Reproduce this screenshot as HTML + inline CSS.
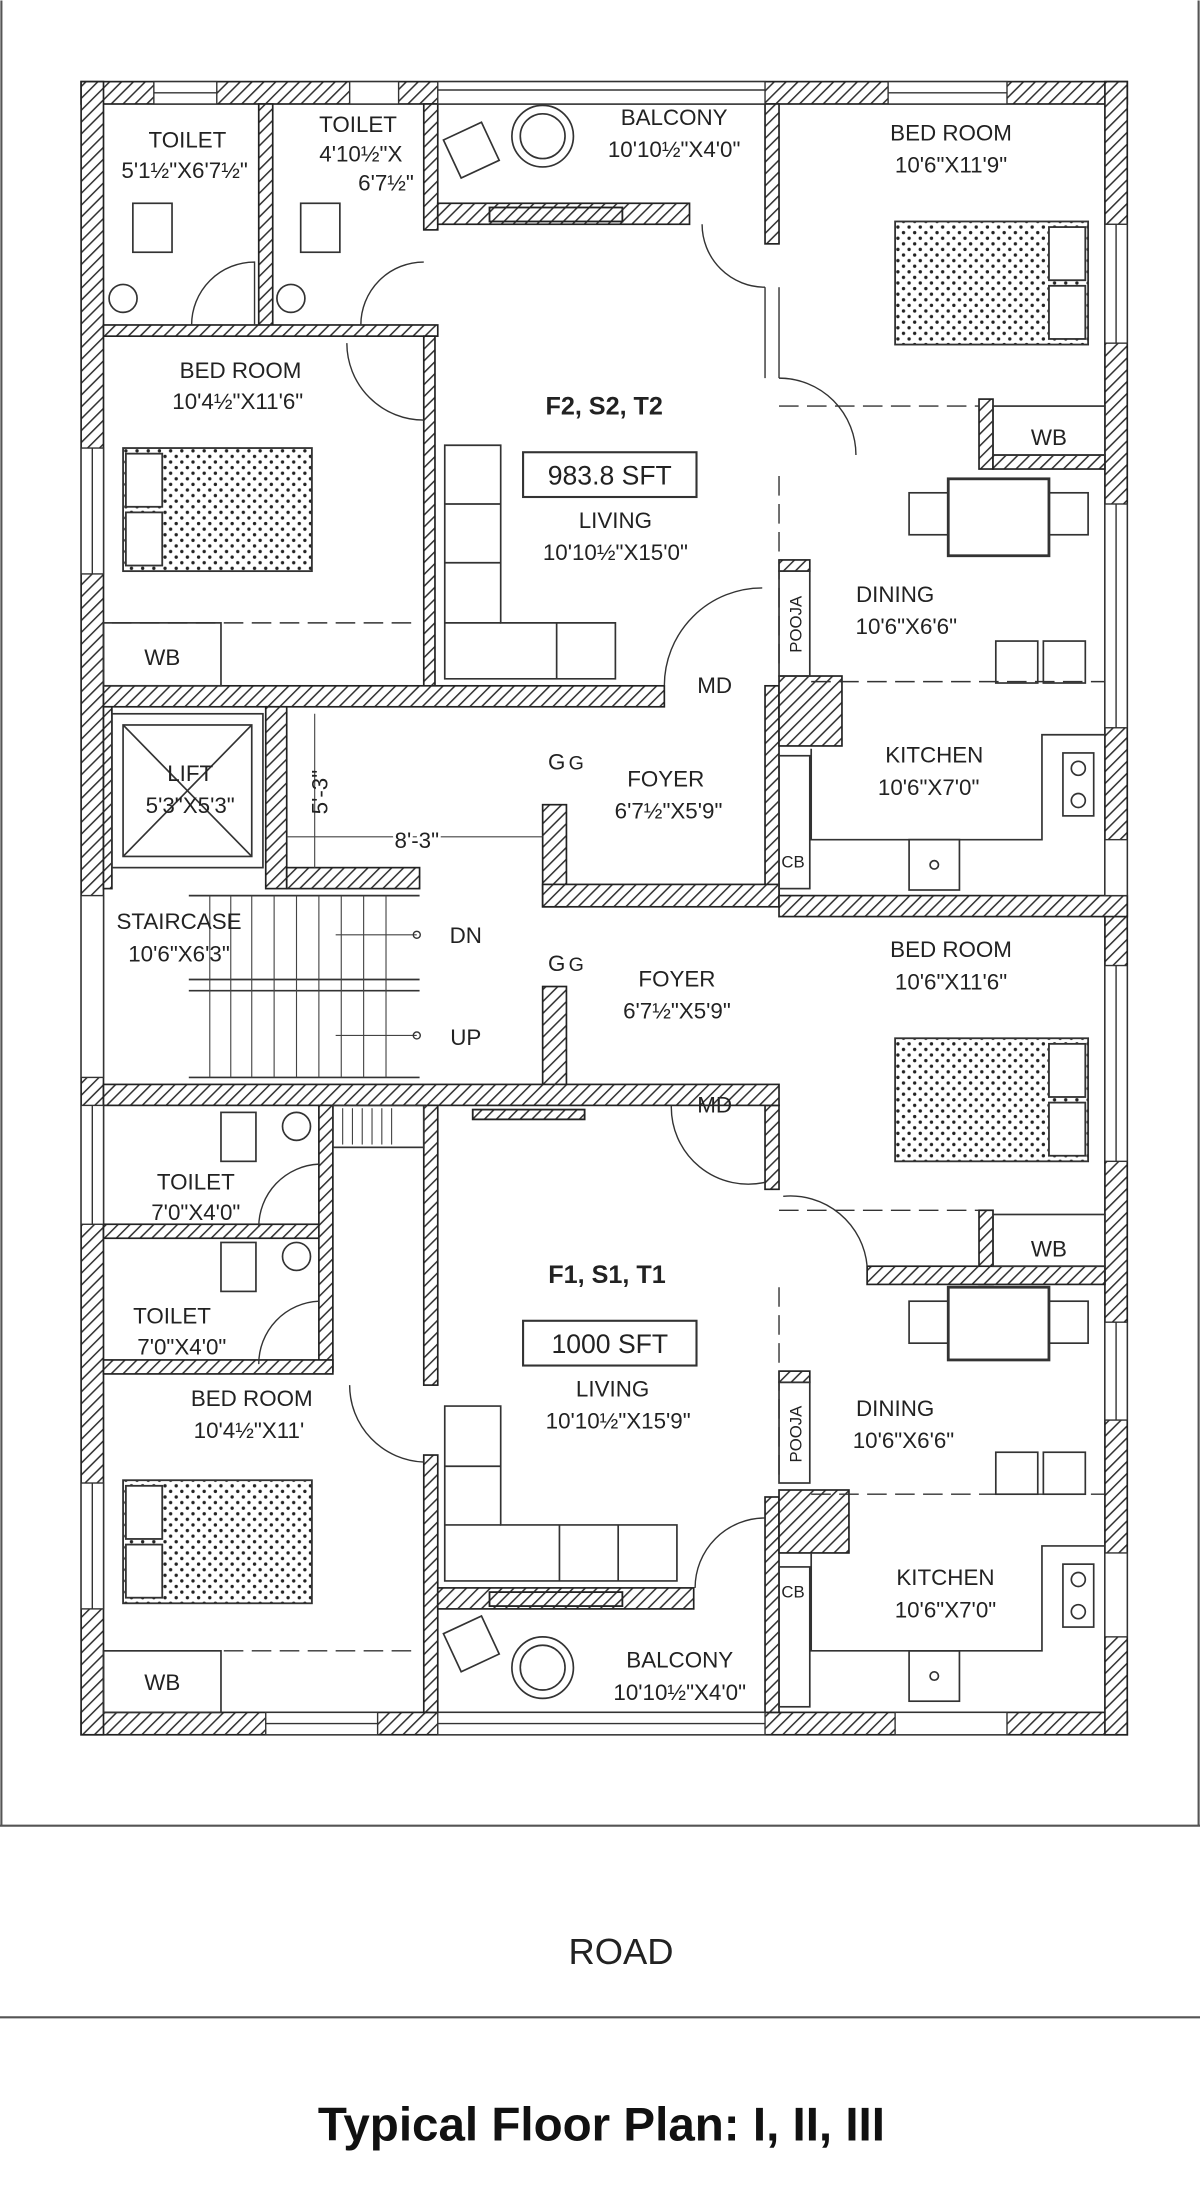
<!DOCTYPE html>
<html><head><meta charset="utf-8"><style>
html,body{margin:0;padding:0;background:#fff}
svg{display:block}
text{font-family:"Liberation Sans",sans-serif;fill:#222}
</style></head><body>
<svg width="1200" height="2194" viewBox="0 0 858 1568" xmlns="http://www.w3.org/2000/svg">
<defs>
<pattern id="h" width="6" height="6" patternUnits="userSpaceOnUse" patternTransform="rotate(45)">
<rect width="6" height="6" fill="#fff"/><line x1="0" y1="0" x2="0" y2="6" stroke="#333" stroke-width="2.2"/></pattern>
<pattern id="d" width="8" height="8" patternUnits="userSpaceOnUse">
<rect width="8" height="8" fill="#fff"/><circle cx="2" cy="2" r="1.2" fill="#222"/><circle cx="6" cy="6" r="1.2" fill="#222"/></pattern>
</defs>
<rect width="858" height="1568" fill="#fff"/>
<line x1="1" y1="0" x2="1" y2="1305" stroke="#555" stroke-width="1.5"/>
<line x1="857" y1="0" x2="857" y2="1305" stroke="#555" stroke-width="1.5"/>
<line x1="0" y1="1305" x2="858" y2="1305" stroke="#555" stroke-width="1.5"/>
<line x1="0" y1="1442" x2="858" y2="1442" stroke="#555" stroke-width="1.5"/>
<text x="444" y="1404" font-size="26" text-anchor="middle">ROAD</text>
<text x="430" y="1530" font-size="34" font-weight="bold" text-anchor="middle" style="fill:#111">Typical Floor Plan: I, II, III</text>

<g fill="url(#h)" stroke="#222" stroke-width="1.2">
<rect x="58" y="58" width="748" height="16"/>
<rect x="58" y="1224" width="748" height="16"/>
<rect x="58" y="58" width="16" height="1182"/>
<rect x="790" y="58" width="16" height="1182"/>
<rect x="185" y="74" width="10" height="166"/>
<rect x="74" y="232" width="239" height="8"/>
<rect x="303" y="74" width="10" height="90"/>
<rect x="303" y="240" width="8" height="252"/>
<rect x="313" y="145" width="180" height="15"/>
<rect x="547" y="74" width="10" height="100"/>
<rect x="547" y="490" width="10" height="155"/>
<rect x="547" y="790" width="10" height="60"/>
<rect x="547" y="1070" width="10" height="154"/>
<rect x="74" y="490" width="401" height="15"/>
<rect x="190" y="505" width="15" height="130"/>
<rect x="205" y="620" width="95" height="15"/>
<rect x="74" y="505" width="6" height="130"/>
<rect x="388" y="575" width="17" height="73"/>
<rect x="388" y="705" width="17" height="75"/>
<rect x="388" y="632" width="169" height="16"/>
<rect x="557" y="640" width="249" height="15"/>
<rect x="74" y="775" width="483" height="15"/>
<rect x="700" y="285" width="10" height="50"/>
<rect x="710" y="325" width="80" height="10"/>
<rect x="700" y="865" width="10" height="53"/>
<rect x="620" y="905" width="170" height="13"/>
<rect x="74" y="875" width="160" height="10"/>
<rect x="228" y="790" width="10" height="190"/>
<rect x="74" y="972" width="164" height="10"/>
<rect x="303" y="790" width="10" height="200"/>
<rect x="303" y="1040" width="10" height="184"/>
<rect x="313" y="1135" width="183" height="15"/>
<rect x="557" y="483" width="45" height="50"/>
<rect x="557" y="1065" width="50" height="45"/>
<rect x="557" y="400" width="22" height="8"/>
<rect x="557" y="980" width="22" height="8"/>
</g>
<g stroke="#333" stroke-width="1"><line x1="547" y1="205" x2="547" y2="270"/><line x1="557" y1="205" x2="557" y2="270"/></g>
<g fill="#fff" stroke="#333" stroke-width="1">
<rect x="110" y="58" width="45" height="16"/><line x1="110" y1="66" x2="155" y2="66"/>
<rect x="250" y="58" width="35" height="16"/>
<rect x="313" y="58" width="234" height="16"/><line x1="313" y1="64" x2="547" y2="64"/>
<rect x="635" y="58" width="85" height="16"/><line x1="635" y1="66" x2="720" y2="66"/>
<rect x="790" y="160" width="16" height="85"/><line x1="798" y1="160" x2="798" y2="245"/>
<rect x="790" y="360" width="16" height="160"/><line x1="798" y1="360" x2="798" y2="520"/>
<rect x="790" y="600" width="16" height="40"/>
<rect x="790" y="690" width="16" height="140"/><line x1="798" y1="690" x2="798" y2="830"/>
<rect x="790" y="945" width="16" height="70"/><line x1="798" y1="945" x2="798" y2="1015"/>
<rect x="790" y="1110" width="16" height="60"/>
<rect x="58" y="320" width="16" height="90"/><line x1="66" y1="320" x2="66" y2="410"/>
<rect x="58" y="640" width="16" height="130"/>
<rect x="58" y="790" width="16" height="85"/><line x1="66" y1="790" x2="66" y2="875"/>
<rect x="58" y="1060" width="16" height="90"/><line x1="66" y1="1060" x2="66" y2="1150"/>
<rect x="190" y="1224" width="80" height="16"/><line x1="190" y1="1232" x2="270" y2="1232"/>
<rect x="313" y="1224" width="234" height="16"/><line x1="313" y1="1232" x2="547" y2="1232"/>
<rect x="640" y="1224" width="80" height="16"/>
</g>
<g fill="none" stroke="#333" stroke-width="1">
<path d="M137 232 A45 45 0 0 1 182 187 L182 232"/>
<path d="M258 232 A45 45 0 0 1 303 187"/>
<path d="M248 245 A55 55 0 0 0 303 300"/>
<path d="M502 160 A45 45 0 0 0 547 205"/>
<path d="M557 270 A55 55 0 0 1 612 325"/>
<path d="M475 490 A70 70 0 0 1 545 420"/>
<path d="M480 790 A55 55 0 0 0 547 845"/>
<path d="M560 855 A55 55 0 0 1 620 905"/>
<path d="M185 877 A45 45 0 0 1 228 832"/>
<path d="M185 975 A45 45 0 0 1 228 930"/>
<path d="M250 990 A55 55 0 0 0 303 1045"/>
<path d="M497 1135 A50 50 0 0 1 547 1085"/>
</g>
<g stroke="#333" stroke-dasharray="14 6" fill="none" stroke-width="1">
<line x1="557" y1="290" x2="700" y2="290"/>
<line x1="557" y1="340" x2="557" y2="480"/>
<line x1="580" y1="487" x2="790" y2="487"/>
<line x1="557" y1="865" x2="700" y2="865"/>
<line x1="557" y1="920" x2="557" y2="1060"/>
<line x1="580" y1="1068" x2="790" y2="1068"/>
<line x1="80" y1="445" x2="300" y2="445"/>
<line x1="80" y1="1180" x2="300" y2="1180"/>
</g>
<g fill="none" stroke="#333" stroke-width="1.2">
<rect x="74" y="445" width="84" height="45"/>
<rect x="74" y="1180" width="84" height="44"/>
<rect x="710" y="290" width="80" height="35"/>
<rect x="710" y="868" width="80" height="37"/>
<rect x="557" y="408" width="22" height="75"/>
<rect x="557" y="988" width="22" height="72"/>
<rect x="557" y="540" width="22" height="95"/>
<rect x="557" y="1120" width="22" height="100"/>
<rect x="80" y="510" width="108" height="110"/><rect x="88" y="518" width="92" height="94"/>
<line x1="88" y1="518" x2="180" y2="612"/><line x1="180" y1="518" x2="88" y2="612"/>
<path d="M580 535 L580 600 L745 600 L745 525 L790 525"/>
<path d="M580 1110 L580 1180 L745 1180 L745 1105 L790 1105"/>
<rect x="650" y="600" width="36" height="36"/><circle cx="668" cy="618" r="3"/>
<rect x="650" y="1180" width="36" height="36"/><circle cx="668" cy="1198" r="3"/>
<rect x="760" y="538" width="22" height="45"/><circle cx="771" cy="549" r="5"/><circle cx="771" cy="572" r="5"/>
<rect x="760" y="1118" width="22" height="45"/><circle cx="771" cy="1129" r="5"/><circle cx="771" cy="1152" r="5"/>
<rect x="678" y="342" width="72" height="55" stroke-width="2"/>
<rect x="650" y="352" width="28" height="30"/><rect x="750" y="352" width="28" height="30"/>
<rect x="712" y="458" width="30" height="30"/><rect x="746" y="458" width="30" height="30"/>
<rect x="678" y="920" width="72" height="52" stroke-width="2"/>
<rect x="650" y="930" width="28" height="30"/><rect x="750" y="930" width="28" height="30"/>
<rect x="712" y="1038" width="30" height="30"/><rect x="746" y="1038" width="30" height="30"/>
<path d="M318 318 L358 318 L358 445 L440 445 L440 485 L318 485 Z"/>
<line x1="318" y1="360" x2="358" y2="360"/><line x1="318" y1="402" x2="358" y2="402"/><line x1="318" y1="445" x2="358" y2="445"/><line x1="398" y1="445" x2="398" y2="485"/>
<path d="M318 1005 L358 1005 L358 1090 L484 1090 L484 1130 L318 1130 Z"/>
<line x1="318" y1="1048" x2="358" y2="1048"/><line x1="318" y1="1090" x2="358" y2="1090"/><line x1="400" y1="1090" x2="400" y2="1130"/><line x1="442" y1="1090" x2="442" y2="1130"/>
<circle cx="388" cy="97" r="22"/><circle cx="388" cy="97" r="16"/>
<rect x="322" y="92" width="30" height="30" transform="rotate(-25 337 107)"/>
<circle cx="388" cy="1192" r="22"/><circle cx="388" cy="1192" r="16"/>
<rect x="322" y="1160" width="30" height="30" transform="rotate(-25 337 1175)"/>
<rect x="95" y="145" width="28" height="35"/><circle cx="88" cy="213" r="10"/>
<rect x="215" y="145" width="28" height="35"/><circle cx="208" cy="213" r="10"/>
<rect x="158" y="795" width="25" height="35"/><circle cx="212" cy="805" r="10"/>
<rect x="158" y="888" width="25" height="35"/><circle cx="212" cy="898" r="10"/>
<rect x="238" y="790" width="65" height="30"/>
<path d="M135 640 L300 640 M135 700 L300 700 M135 708 L300 708 M135 770 L300 770"/>
<rect x="374" y="323" width="124" height="32" stroke-width="1.5"/>
<rect x="374" y="944" width="124" height="32" stroke-width="1.5"/>
</g>
<g stroke="#444" stroke-width="0.8">
<line x1="150" y1="640" x2="150" y2="770"/><line x1="165" y1="640" x2="165" y2="770"/><line x1="180" y1="640" x2="180" y2="770"/><line x1="196" y1="640" x2="196" y2="770"/><line x1="212" y1="640" x2="212" y2="770"/><line x1="228" y1="640" x2="228" y2="770"/><line x1="244" y1="640" x2="244" y2="770"/><line x1="260" y1="640" x2="260" y2="770"/><line x1="276" y1="640" x2="276" y2="770"/>
<line x1="245" y1="792" x2="245" y2="818"/><line x1="252" y1="792" x2="252" y2="818"/><line x1="259" y1="792" x2="259" y2="818"/><line x1="266" y1="792" x2="266" y2="818"/><line x1="273" y1="792" x2="273" y2="818"/><line x1="280" y1="792" x2="280" y2="818"/>
<line x1="240" y1="668" x2="298" y2="668"/><line x1="240" y1="740" x2="298" y2="740"/>
<line x1="225" y1="510" x2="225" y2="620"/><line x1="205" y1="598" x2="388" y2="598"/>
</g>
<circle cx="298" cy="668" r="2.5" fill="none" stroke="#333"/><circle cx="298" cy="740" r="2.5" fill="none" stroke="#333"/>
<g stroke="#333" stroke-width="1.3">
<rect x="640" y="158" width="138" height="88" fill="url(#d)"/><rect x="750" y="162" width="26" height="38" fill="#fff"/><rect x="750" y="204" width="26" height="38" fill="#fff"/>
<rect x="88" y="320" width="135" height="88" fill="url(#d)"/><rect x="90" y="324" width="26" height="38" fill="#fff"/><rect x="90" y="366" width="26" height="38" fill="#fff"/>
<rect x="640" y="742" width="138" height="88" fill="url(#d)"/><rect x="750" y="746" width="26" height="38" fill="#fff"/><rect x="750" y="788" width="26" height="38" fill="#fff"/>
<rect x="88" y="1058" width="135" height="88" fill="url(#d)"/><rect x="90" y="1062" width="26" height="38" fill="#fff"/><rect x="90" y="1104" width="26" height="38" fill="#fff"/>
</g>
<g stroke="#222" stroke-width="1.3" fill="url(#h)"><rect x="350" y="148" width="95" height="10"/><rect x="338" y="793" width="80" height="7"/><rect x="350" y="1138" width="95" height="10"/></g>
<g font-size="16" text-anchor="middle">
<text x="134" y="105">TOILET</text><text x="132" y="127">5'1½"X6'7½"</text>
<text x="256" y="94">TOILET</text><text x="258" y="115">4'10½"X</text><text x="276" y="136">6'7½"</text>
<text x="482" y="89">BALCONY</text><text x="482" y="112">10'10½"X4'0"</text>
<text x="680" y="100">BED ROOM</text><text x="680" y="123">10'6"X11'9"</text>
<text x="172" y="270">BED ROOM</text><text x="170" y="292">10'4½"X11'6"</text>
<text x="432" y="296" font-size="18" font-weight="bold">F2, S2, T2</text>
<text x="436" y="346" font-size="19">983.8 SFT</text>
<text x="440" y="377">LIVING</text><text x="440" y="400">10'10½"X15'0"</text>
<text x="750" y="318">WB</text>
<text x="640" y="430">DINING</text><text x="648" y="453">10'6"X6'6"</text>
<text x="116" y="475">WB</text>
<text x="511" y="495">MD</text>
<text x="668" y="545">KITCHEN</text><text x="664" y="568">10'6"X7'0"</text>
<text x="136" y="558">LIFT</text><text x="136" y="581">5'3"X5'3"</text>
<text x="298" y="606" style="paint-order:stroke" stroke="#fff" stroke-width="4">8'-3"</text>
<text x="398" y="550">G</text><text x="412" y="550" font-size="14">G</text>
<text x="476" y="562">FOYER</text><text x="478" y="585">6'7½"X5'9"</text>
<text x="128" y="664">STAIRCASE</text><text x="128" y="687">10'6"X6'3"</text>
<text x="333" y="674">DN</text><text x="333" y="747">UP</text>
<text x="398" y="694">G</text><text x="412" y="694" font-size="14">G</text>
<text x="484" y="705">FOYER</text><text x="484" y="728">6'7½"X5'9"</text>
<text x="680" y="684">BED ROOM</text><text x="680" y="707">10'6"X11'6"</text>
<text x="511" y="795">MD</text>
<text x="140" y="850">TOILET</text><text x="140" y="872">7'0"X4'0"</text>
<text x="123" y="946">TOILET</text><text x="130" y="968">7'0"X4'0"</text>
<text x="750" y="898">WB</text>
<text x="434" y="917" font-size="18" font-weight="bold">F1, S1, T1</text>
<text x="436" y="967" font-size="19">1000 SFT</text>
<text x="180" y="1005">BED ROOM</text><text x="178" y="1028">10'4½"X11'</text>
<text x="438" y="998">LIVING</text><text x="442" y="1021">10'10½"X15'9"</text>
<text x="640" y="1012">DINING</text><text x="646" y="1035">10'6"X6'6"</text>
<text x="676" y="1133">KITCHEN</text><text x="676" y="1156">10'6"X7'0"</text>
<text x="486" y="1192">BALCONY</text><text x="486" y="1215">10'10½"X4'0"</text>
<text x="116" y="1208">WB</text>
</g>
<g font-size="12" text-anchor="middle">
<text x="567" y="620">CB</text><text x="567" y="1142">CB</text>
<text transform="translate(573 446) rotate(-90)">POOJA</text>
<text transform="translate(573 1025) rotate(-90)">POOJA</text>
<text font-size="16" transform="translate(234 566) rotate(-90)">5'-3"</text>
</g>
</svg>
</body></html>
